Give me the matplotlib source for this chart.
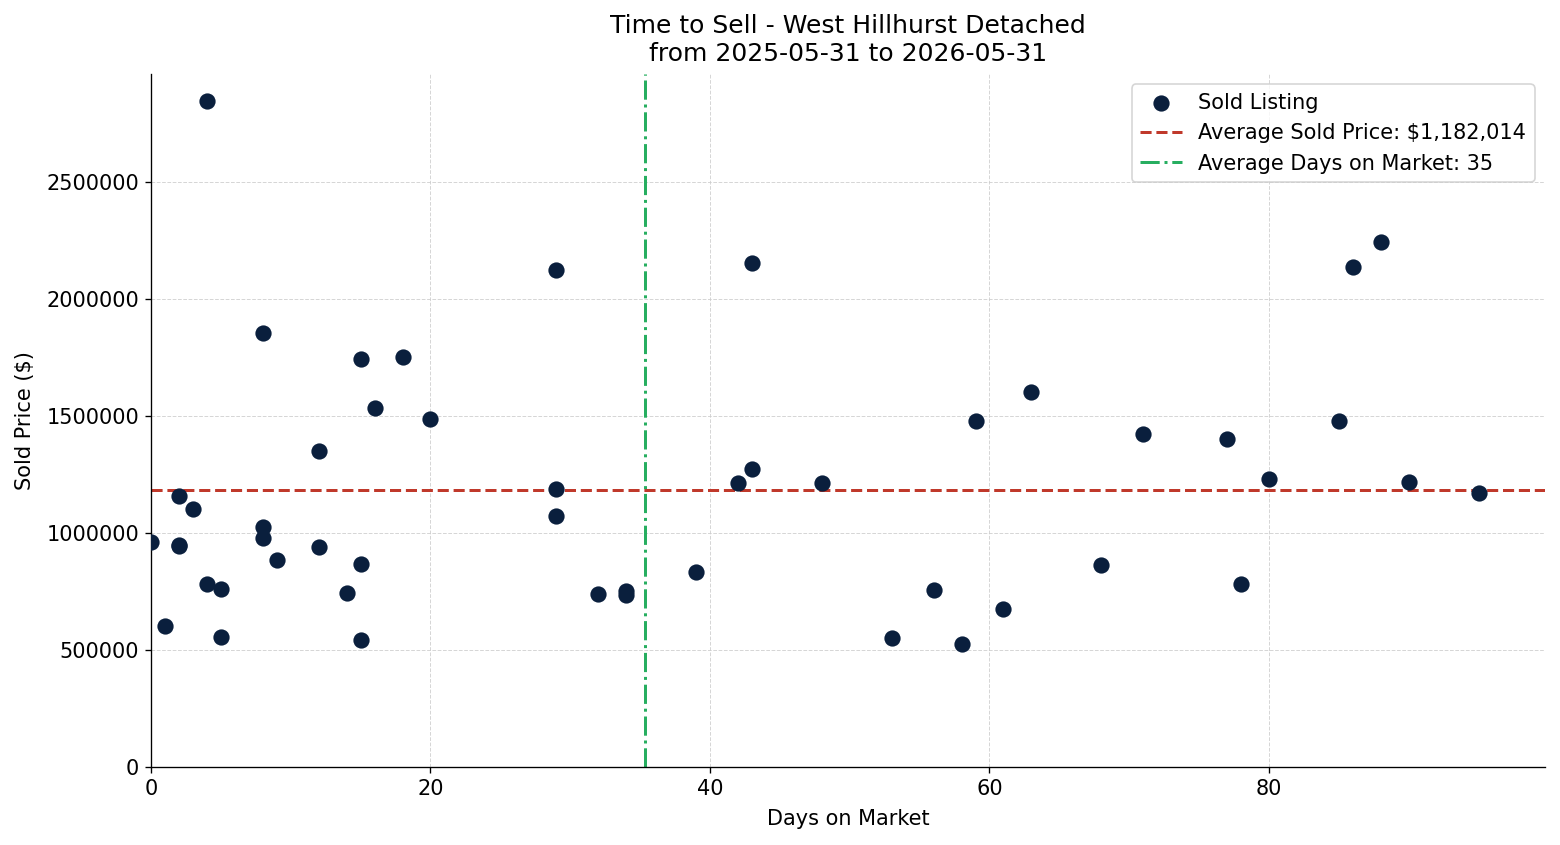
import matplotlib
matplotlib.use("Agg")
import matplotlib.pyplot as plt
import numpy as np

days_on_market = [0, 1, 2, 2, 2, 3, 4, 4, 5, 5,
                  8, 8, 8, 9, 12, 12, 14, 15, 15, 15,
                  16, 18, 20, 29, 29, 29, 32, 34, 34, 39,
                  42, 43, 43, 48, 53, 56, 58, 59, 61, 63,
                  68, 71, 77, 78, 80, 85, 86, 88, 90, 95]
sold_price = [960000, 602000, 1158000, 950000, 944000, 1102000, 2846000, 782000, 760000, 555000,
              1854000, 1025000, 978000, 884000, 1350000, 940000, 743000, 1743000, 867000, 542000,
              1533000, 1752000, 1487000, 2124000, 1188000, 1072000, 739000, 752000, 736000, 833000,
              1213000, 2153000, 1273000, 1213000, 551000, 756000, 525000, 1478000, 675000, 1602000,
              863000, 1423000, 1401000, 782000, 1230000, 1478000, 2136000, 2243000, 1218000, 1171000]

avg_price = 1182014
title = "Time to Sell - West Hillhurst Detached\nfrom 2025-05-31 to 2026-05-31"

x = np.array(days_on_market)
y = np.array(sold_price)
avg_days = x.mean()

fig = plt.figure(figsize=(13, 845 / 120), dpi=120)
ax = fig.add_axes([151 / 1560, 78 / 845, (1545 - 151) / 1560, (767 - 74) / 845])

ax.scatter(x, y, s=95, color="#0a1f3d", label="Sold Listing", zorder=3, linewidths=0)
ax.axhline(avg_price, color="#c0392b", linestyle="--", linewidth=1.8,
           label=f"Average Sold Price: ${avg_price:,.0f}", zorder=2)
ax.axvline(avg_days, color="#27ae60", linestyle="-.", linewidth=1.8,
           label=f"Average Days on Market: {avg_days:.0f}", zorder=2)

ax.set_xlim(0, x.max() * 1.05)
ax.set_ylim(0, y.max() * 1.04)
ax.ticklabel_format(axis="y", style="plain", useOffset=False)

ax.set_title(title, fontsize=15, pad=8)
ax.set_xlabel("Days on Market", fontsize=12.5, labelpad=6)
ax.set_ylabel("Sold Price ($)", fontsize=12.5, labelpad=7)
ax.tick_params(labelsize=12.5)
ax.grid(True, linestyle="--", linewidth=0.6, color="#cccccc", alpha=0.8)
ax.set_axisbelow(True)
ax.spines["top"].set_visible(False)
ax.spines["right"].set_visible(False)
ax.legend(loc="upper right", fontsize=12.5)

fig.savefig("out.png", dpi=120)
